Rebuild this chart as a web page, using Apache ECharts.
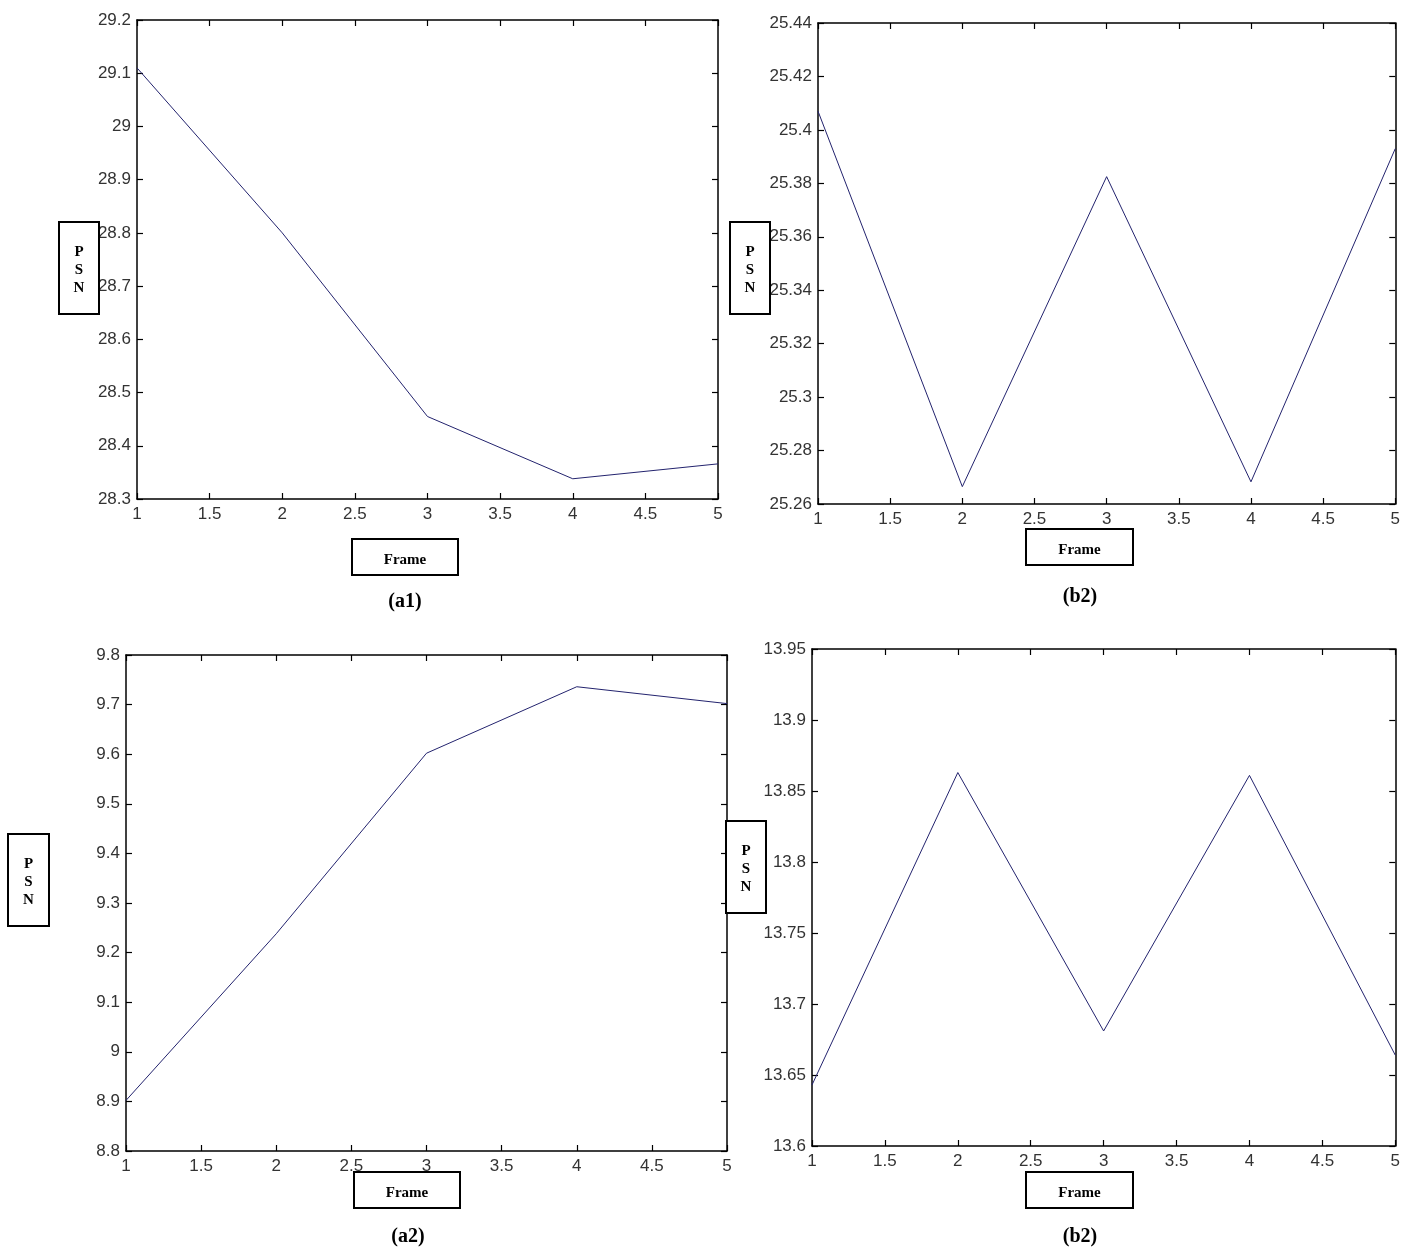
<!DOCTYPE html>
<html>
<head>
<meta charset="utf-8">
<script src="https://cdn.jsdelivr.net/npm/echarts@6/dist/echarts.min.js"></script>
<style>html,body{margin:0;padding:0;background:#fff;}#c{width:1403px;height:1250px;}</style>
</head>
<body>
<div id="c"></div>
<script>
// ---- data ----
const frames = [1, 2, 3, 4, 5];
const xTicks = [1, 1.5, 2, 2.5, 3, 3.5, 4, 4.5, 5];
const psnA1 = [29.11, 28.80, 28.455, 28.338, 28.366];
const psnB2Top = [25.407, 25.2665, 25.3825, 25.2683, 25.393];
const psnA2 = [8.902, 9.238, 9.602, 9.736, 9.702];
const psnB2Bottom = [13.643, 13.863, 13.681, 13.861, 13.664];
const yTicksA1 = [28.3, 28.4, 28.5, 28.6, 28.7, 28.8, 28.9, 29, 29.1, 29.2];
const yTicksB2Top = [25.26, 25.28, 25.3, 25.32, 25.34, 25.36, 25.38, 25.4, 25.42, 25.44];
const yTicksA2 = [8.8, 8.9, 9, 9.1, 9.2, 9.3, 9.4, 9.5, 9.6, 9.7, 9.8];
const yTicksB2Bottom = [13.6, 13.65, 13.7, 13.75, 13.8, 13.85, 13.9, 13.95];
const captions = ['(a1)', '(b2)', '(a2)', '(b2)'];
const xName = 'Frame';
const yName = 'P\nS\nN';

const panels = [
  { data: psnA1, ticks: yTicksA1, grid: { left: 137, top: 20, width: 581, height: 479 },
    psn: [59, 222, 40, 92], frame: [352, 539, 106, 36], cap: [405, 602] },
  { data: psnB2Top, ticks: yTicksB2Top, grid: { left: 818, top: 23, width: 578, height: 481 },
    psn: [730, 222, 40, 92], frame: [1026, 529, 107, 36], cap: [1080, 597] },
  { data: psnA2, ticks: yTicksA2, grid: { left: 126, top: 655, width: 601, height: 496 },
    psn: [8, 834, 41, 92], frame: [354, 1172, 106, 36], cap: [408, 1237] },
  { data: psnB2Bottom, ticks: yTicksB2Bottom, grid: { left: 812, top: 649, width: 584, height: 497 },
    psn: [726, 821, 40, 92], frame: [1026, 1172, 107, 36], cap: [1080, 1237] }
];

const fmt = v => String(parseFloat(Number(v).toFixed(4)));
const axisLine = { show: true, onZero: false, lineStyle: { color: '#000', width: 1.5 } };
const tick = { show: true, inside: true, length: 6, lineStyle: { color: '#000', width: 1.2 } };
const lbl = { color: '#333', fontSize: 17, fontFamily: 'Liberation Sans, Arial, sans-serif', formatter: fmt };

const grids = [], xAxes = [], yAxes = [], series = [], graphics = [];
panels.forEach((p, i) => {
  grids.push(Object.assign({ containLabel: false }, p.grid));
  const xmin = xTicks[0], xmax = xTicks[xTicks.length - 1], xint = xTicks[1] - xTicks[0];
  const ymin = p.ticks[0], ymax = p.ticks[p.ticks.length - 1];
  const yint = parseFloat((p.ticks[1] - p.ticks[0]).toFixed(4));
  xAxes.push({ type: 'value', gridIndex: i, position: 'bottom', min: xmin, max: xmax, interval: xint,
    axisLine, axisTick: tick, splitLine: { show: false }, axisLabel: Object.assign({ margin: 7 }, lbl) });
  xAxes.push({ type: 'value', gridIndex: i, position: 'top', min: xmin, max: xmax, interval: xint,
    axisLine, axisTick: tick, splitLine: { show: false }, axisLabel: { show: false } });
  yAxes.push({ type: 'value', gridIndex: i, position: 'left', min: ymin, max: ymax, interval: yint,
    axisLine, axisTick: tick, splitLine: { show: false }, axisLabel: Object.assign({ margin: 6 }, lbl) });
  yAxes.push({ type: 'value', gridIndex: i, position: 'right', min: ymin, max: ymax, interval: yint,
    axisLine, axisTick: tick, splitLine: { show: false }, axisLabel: { show: false } });
  series.push({ type: 'line', xAxisIndex: 2 * i, yAxisIndex: 2 * i, data: frames.map((f, k) => [f, p.data[k]]),
    showSymbol: false, symbol: 'none', lineStyle: { color: '#23236e', width: 1 }, animation: false });

  const [bx, by, bw, bh] = p.psn;
  graphics.push({ type: 'rect', shape: { x: bx, y: by, width: bw, height: bh },
    style: { fill: '#fff', stroke: '#000', lineWidth: 2 }, z: 100 });
  graphics.push({ type: 'text', x: bx + bw / 2, y: by + bh / 2 + 2, z: 101,
    style: { text: yName, fill: '#000', font: 'bold 15px "Liberation Serif", "Times New Roman", serif',
      textAlign: 'center', textVerticalAlign: 'middle', lineHeight: 18 } });
  const [fx, fy, fw, fh] = p.frame;
  graphics.push({ type: 'rect', shape: { x: fx, y: fy, width: fw, height: fh },
    style: { fill: '#fff', stroke: '#000', lineWidth: 2 }, z: 100 });
  graphics.push({ type: 'text', x: fx + fw / 2, y: fy + fh / 2 + 3, z: 101,
    style: { text: xName, fill: '#000', font: 'bold 15px "Liberation Serif", "Times New Roman", serif',
      textAlign: 'center', textVerticalAlign: 'middle' } });
  graphics.push({ type: 'text', x: p.cap[0], y: p.cap[1], z: 101,
    style: { text: captions[i], fill: '#000', font: 'bold 20px "Liberation Serif", "Times New Roman", serif',
      textAlign: 'center', textVerticalAlign: 'middle' } });
});

const chart = echarts.init(document.getElementById('c'), null, { renderer: 'canvas' });
chart.setOption({
  animation: false,
  backgroundColor: '#fff',
  grid: grids, xAxis: xAxes, yAxis: yAxes, series: series, graphic: graphics
});
</script>
</body>
</html>
